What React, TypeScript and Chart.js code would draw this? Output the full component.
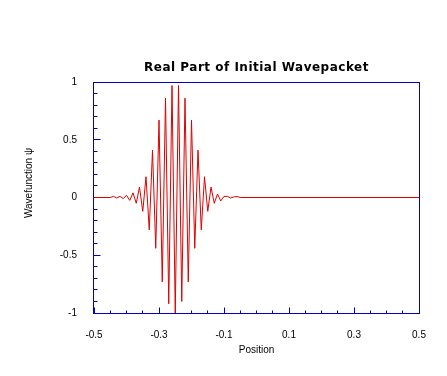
import React, { useEffect, useRef } from 'react';
import { Chart, registerables } from 'chart.js';

Chart.register(...registerables);

// ---- data ----
const positions = [
  -0.5, -0.45, -0.44, -0.43, -0.42, -0.41, -0.4, -0.39, -0.38, -0.37,
  -0.36, -0.35, -0.34, -0.33, -0.32, -0.31, -0.3, -0.29, -0.28, -0.27,
  -0.26, -0.25, -0.24, -0.23, -0.22, -0.21, -0.2, -0.19, -0.18, -0.17,
  -0.16, -0.15, -0.14, -0.13, -0.12, -0.11, -0.1, -0.09, -0.08, -0.07,
  -0.06, -0.05, 0.5,
];
const psiReal = [
  0, 0, 0.01, -0.005, 0.01, -0.01, 0.02, -0.025, 0.04, -0.05,
  0.09, -0.12, 0.18, -0.28, 0.41, -0.44, 0.67, -0.73, 0.86, -0.92,
  0.97, -1.0, 0.97, -0.9, 0.86, -0.73, 0.67, -0.44, 0.41, -0.28,
  0.18, -0.12, 0.09, -0.05, 0.03, -0.03, 0.01, 0.01, -0.005, 0.005,
  0.008, 0, 0,
];
const xTickLabels = ['-0.5', '-0.3', '-0.1', '0.1', '0.3', '0.5'];
const yTickLabels = ['-1', '-0.5', '0', '0.5', '1'];
const xMinorTicks = [-0.5, -0.45, -0.4, -0.35, -0.3, -0.25, -0.2, -0.15, -0.1, -0.05, 0, 0.05, 0.1, 0.15, 0.2, 0.25, 0.3, 0.35, 0.4, 0.45, 0.5];
const yMinorTicks = [-1, -0.9, -0.8, -0.7, -0.6, -0.5, -0.4, -0.3, -0.2, -0.1, 0, 0.1, 0.2, 0.3, 0.4, 0.5, 0.6, 0.7, 0.8, 0.9, 1];

const TITLE = 'Real Part of Initial Wavepacket';
const X_TITLE = 'Position';
const Y_TITLE = 'Wavefunction ψ';

const BLUE = '#0000cc';
const RED = '#dd0000';
const FONT = "'Liberation Sans', Arial, sans-serif";

const fmt = (v: number) => String(Math.round(Number(v) * 100) / 100);

const framePlugin = {
  id: 'frame',
  beforeDatasetsDraw(chart: any) {
    const { ctx, chartArea: a, scales } = chart;
    ctx.save();
    ctx.strokeStyle = BLUE;
    ctx.lineWidth = 1;
    const L = Math.round(a.left) - 0.5;
    const R = Math.round(a.right) + 0.5;
    const T = Math.round(a.top) + 0.5;
    const B = Math.round(a.bottom) + 0.5;
    ctx.strokeRect(L, T, R - L, B - T);
    ctx.beginPath();
    yMinorTicks.forEach((v) => {
      const py = Math.floor(scales.y.getPixelForValue(v)) + 0.5;
      const major = yTickLabels.includes(fmt(v));
      const len = major ? 7 : 4;
      ctx.moveTo(L, py);
      ctx.lineTo(L + len, py);
    });
    xMinorTicks.forEach((v) => {
      const px = Math.floor(scales.x.getPixelForValue(v)) + 0.5;
      const major = xTickLabels.includes(fmt(v));
      const len = major ? 6 : 3;
      ctx.moveTo(px, B);
      ctx.lineTo(px, B - len);
    });
    ctx.stroke();
    ctx.restore();
  },
  afterDraw(chart: any) {
    const { ctx, chartArea: a } = chart;
    ctx.save();
    ctx.fillStyle = '#000';
    ctx.textAlign = 'center';
    ctx.textBaseline = 'alphabetic';
    ctx.font = "bold 12px 'DejaVu Sans', sans-serif";
    try { (ctx as any).letterSpacing = '0.5px'; } catch (e) {}
    ctx.fillText(TITLE, (a.left + a.right) / 2, 71);
    try { (ctx as any).letterSpacing = '0px'; } catch (e) {}
    ctx.font = `10px ${FONT}`;
    ctx.fillText(X_TITLE, (a.left + a.right) / 2, 353);
    ctx.translate(31.5, 183);
    ctx.rotate(-Math.PI / 2);
    ctx.fillText(Y_TITLE, 0, 0);
    ctx.restore();
  },
};

export default function App() {
  const ref = useRef<HTMLCanvasElement | null>(null);
  useEffect(() => {
    if (!ref.current) return;
    const chart = new Chart(ref.current, {
      type: 'line',
      data: {
        datasets: [
          {
            data: positions.map((x, i) => ({ x, y: psiReal[i] })),
            borderColor: RED,
            borderWidth: 1,
            pointRadius: 0,
            tension: 0,
            fill: false,
          },
        ],
      },
      options: {
        animation: false,
        responsive: false,
        devicePixelRatio: 1,
        layout: { padding: { left: 0, top: 82, right: 28, bottom: 0 } },
        plugins: {
          legend: { display: false },
          title: { display: false },
          tooltip: { enabled: false },
        },
        scales: {
          x: {
            type: 'linear',
            min: -0.5,
            max: 0.5,
            grid: { display: false, drawTicks: false },
            border: { display: false },
            ticks: {
              stepSize: 0.05,
              autoSkip: false,
              maxRotation: 0,
              padding: 16,
              color: '#000',
              font: { family: FONT, size: 10 },
              callback: (v: any) => (xTickLabels.includes(fmt(v)) ? fmt(v) : ''),
            },
            afterFit: (s: any) => {
              s.height = 63;
            },
          },
          y: {
            type: 'linear',
            min: -1,
            max: 1,
            grid: { display: false, drawTicks: false },
            border: { display: false },
            ticks: {
              stepSize: 0.5,
              padding: 17,
              color: '#000',
              font: { family: FONT, size: 10 },
              callback: (v: any) => (yTickLabels.includes(fmt(v)) ? fmt(v) : ''),
            },
            afterFit: (s: any) => {
              s.width = 94;
            },
          },
        },
      } as any,
      plugins: [framePlugin],
    });
    return () => chart.destroy();
  }, []);
  return (
    <div style={{ position: 'fixed', left: 0, top: 0, width: 447, height: 376, background: '#fff' }}>
      <canvas ref={ref} width={447} height={376} style={{ display: 'block' }} />
    </div>
  );
}
